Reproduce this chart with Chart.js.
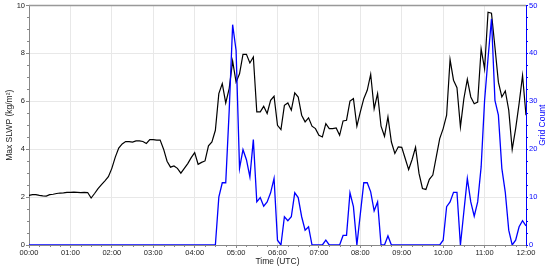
<!DOCTYPE html>
<html><head><meta charset="utf-8">
<script src="https://cdn.jsdelivr.net/npm/chart.js@4.4.0/dist/chart.umd.min.js"></script>
<style>html,body{margin:0;padding:0;background:#fff;}</style>
</head><body>
<canvas id="c" width="550" height="273" style="width:550px;height:273px;display:block"></canvas>
<script>
const timeStepMin = 5;
const hourLabels = ['00:00','01:00','02:00','03:00','04:00','05:00','06:00','07:00','08:00','09:00','10:00','11:00','12:00'];
const leftTicks = [0, 2, 4, 6, 8, 10];
const rightTicks = [0, 10, 20, 30, 40, 50];
const slwp = [
 2.07, 2.1, 2.1, 2.07, 2.05, 2.04, 2.1, 2.12, 2.15, 2.17,
 2.18, 2.2, 2.2, 2.21, 2.2, 2.19, 2.2, 2.19, 1.96, 2.15,
 2.35, 2.52, 2.68, 2.85, 3.2, 3.67, 4.05, 4.22, 4.32, 4.32,
 4.3, 4.35, 4.35, 4.32, 4.24, 4.4, 4.4, 4.38, 4.38, 4.0,
 3.5, 3.25, 3.3, 3.2, 3.0, 3.2, 3.4, 3.65, 3.86, 3.37,
 3.45, 3.51, 4.14, 4.3, 4.79, 6.32, 6.74, 5.93, 6.53, 7.68,
 6.8, 7.15, 7.96, 7.96, 7.6, 7.85, 5.56, 5.56, 5.79, 5.49,
 6.04, 6.21, 5.0, 4.82, 5.83, 5.93, 5.63, 6.35, 6.18, 5.42,
 5.14, 5.31, 4.96, 4.86, 4.58, 4.51, 5.07, 4.86, 4.86, 4.89,
 4.58, 5.18, 5.21, 6.01, 6.11, 4.96, 5.56, 6.11, 6.46, 7.13,
 5.69, 6.32, 4.96, 4.54, 5.35, 4.3, 3.82, 4.1, 4.08, 3.61,
 3.15, 3.57, 4.08, 2.99, 2.36, 2.32, 2.74, 2.92, 3.68, 4.44,
 4.86, 5.42, 7.74, 6.88, 6.57, 4.93, 6.11, 6.92, 6.18, 5.9,
 5.97, 8.19, 7.36, 9.72, 9.68, 8.26, 6.8, 6.18, 6.43, 5.63,
 3.99, 4.86, 5.9, 7.08, 5.42
];
const gridCount = [
 0,0,0,0,0,0,0,0,0,0,
 0,0,0,0,0,0,0,0,0,0,
 0,0,0,0,0,0,0,0,0,0,
 0,0,0,0,0,0,0,0,0,0,
 0,0,0,0,0,0,0,0,0,0,
 0,0,0,0,0, 10, 13, 13, 28, 46,
 40.6, 16, 19.9, 17.8, 14.2, 22, 9, 9.9, 8.1, 9,
 10.9, 13.9, 1, 0, 5.9, 5.07, 5.9, 10.9, 9.9, 5.9,
 3.1, 3.8, 0, 0, 0, 0, 1, 0, 0, 0,
 0, 2, 2, 10.9, 8, 0, 6.5, 13, 13, 11.1,
 7.15, 9, 0, 0, 1.9, 0, 0, 0, 0, 0,
 0, 0, 0, 0, 0, 0, 0, 0, 0, 0,
 1, 8, 9, 11, 11, 0, 7, 13.9, 9, 6,
 9, 16.3, 30.2, 39, 47.2, 30.2, 27.1, 16, 11, 3.1,
 0, 1, 3.8, 5.07, 4
];
const times = slwp.map((_, i) => i * timeStepMin);

const FONT = '"Liberation Sans", Arial, Helvetica, sans-serif';
const BLUE = '#0000ff';

const extras = {
  id: 'extras',
  afterDraw(chart) {
    const {ctx, chartArea: a, scales} = chart;
    const x = scales.x, y = scales.y, y2 = scales.y2;
    ctx.save();
    ctx.lineWidth = 1;
    // minor ticks x
    ctx.strokeStyle = '#888';
    ctx.beginPath();
    for (let m = 0; m <= 720; m += 15) {
      if (m % 60 === 0) continue;
      const px = Math.round(x.getPixelForValue(m)) + 0.5;
      ctx.moveTo(px, a.bottom); ctx.lineTo(px, a.bottom + 2);
    }
    // minor ticks left
    for (let v = 0; v <= 10; v += 0.5) {
      if (v % 2 === 0) continue;
      const py = Math.round(y.getPixelForValue(v)) + 0.5;
      ctx.moveTo(a.left, py); ctx.lineTo(a.left - 2, py);
    }
    ctx.stroke();
    ctx.strokeStyle = BLUE;
    ctx.beginPath();
    for (let v = 0; v <= 50; v += 2.5) {
      if (v % 10 === 0) continue;
      const py = Math.round(y2.getPixelForValue(v)) + 0.5;
      ctx.moveTo(a.right, py); ctx.lineTo(a.right + 2, py);
    }
    ctx.stroke();
    // top border
    ctx.strokeStyle = '#999';
    ctx.lineWidth = 1.5;
    ctx.beginPath();
    ctx.moveTo(a.left, a.top); ctx.lineTo(a.right, a.top);
    ctx.stroke();
    // right title
    ctx.fillStyle = BLUE;
    ctx.font = '8.5px ' + FONT;
    ctx.textAlign = 'center';
    ctx.textBaseline = 'middle';
    ctx.translate(542.5, (a.top + a.bottom) / 2);
    ctx.rotate(-Math.PI / 2);
    ctx.fillText('Grid Count', 0, 0);
    ctx.restore();
  }
};

new Chart(document.getElementById('c'), {
  type: 'line',
  data: {
    datasets: [
      { label: 'Max SLWP', data: times.map((t, i) => ({x: t, y: slwp[i]})), yAxisID: 'y',
        borderColor: '#000', borderWidth: 1.2, pointRadius: 0, tension: 0, order: 1 },
      { label: 'Grid Count', data: times.map((t, i) => ({x: t, y: gridCount[i]})), yAxisID: 'y2',
        borderColor: BLUE, borderWidth: 1.3, pointRadius: 0, tension: 0, order: 0 }
    ]
  },
  options: {
    responsive: false,
    animation: false,
    devicePixelRatio: 1,
    layout: { padding: { top: 5, left: 0, right: 0, bottom: 0 } },
    plugins: { legend: { display: false }, tooltip: { enabled: false } },
    scales: {
      x: {
        type: 'linear', min: 0, max: 720,
        afterBuildTicks(s) { s.ticks = hourLabels.map((_, i) => ({value: i * 60})); },
        afterFit(s) { s.height = 28; },
        ticks: { callback: (v) => hourLabels[Math.round(v / 60)], font: { size: 7.5, family: FONT }, color: '#222', padding: 0, maxRotation: 0, autoSkip: false },
        grid: { color: '#e8e8e8', tickLength: 3, tickColor: '#888' },
        border: { color: '#888', width: 1 },
        title: { display: true, text: 'Time (UTC)', font: { size: 8.5, family: FONT }, color: '#222', padding: { top: 0, bottom: 6 } }
      },
      y: {
        position: 'left', min: 0, max: 10,
        afterBuildTicks(s) { s.ticks = leftTicks.map(v => ({value: v})); },
        afterFit(s) { s.width = 29; },
        ticks: { font: { size: 7.5, family: FONT }, color: '#222', padding: 1 },
        grid: { color: '#e8e8e8', tickLength: 3, tickColor: '#888' },
        border: { color: '#888', width: 1 },
        title: { display: true, text: 'Max SLWP (kg/m²)', font: { size: 8.5, family: FONT }, color: '#222', padding: { top: 5, bottom: 0 } }
      },
      y2: {
        position: 'right', min: 0, max: 50,
        afterBuildTicks(s) { s.ticks = rightTicks.map(v => ({value: v})); },
        afterFit(s) { s.width = 24; },
        ticks: { font: { size: 7.5, family: FONT }, color: BLUE, padding: 1 },
        grid: { drawOnChartArea: false, tickLength: 2, tickColor: BLUE },
        border: { color: BLUE, width: 1 }
      }
    }
  },
  plugins: [extras]
});
</script>
</body></html>
